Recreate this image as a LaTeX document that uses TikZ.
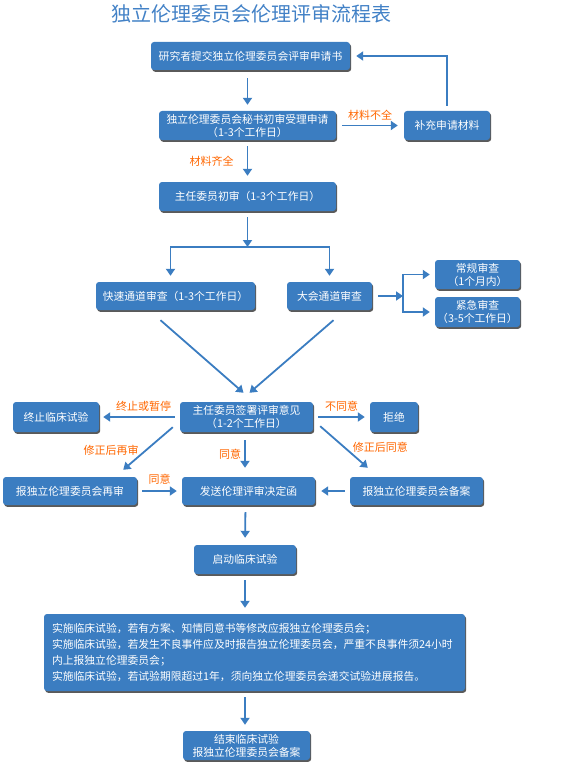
\documentclass[tikz,border=0pt]{standalone}
\usepackage{fontspec}
\setmainfont{Noto Sans CJK SC}
\usepackage{xcolor}
\usepackage{tikz}
\usetikzlibrary{arrows.meta,positioning,calc,shadows}
\definecolor{FlowBlue}{HTML}{3B7DC1}
\definecolor{TitleBlue}{HTML}{4281C6}
\definecolor{NoteOrange}{HTML}{FF6600}
\definecolor{ShadowGrey}{HTML}{5A5A5A}

\begin{document}
\begin{tikzpicture}[x=1pt,y=-1pt,
  box/.style={fill=FlowBlue,text=white,rounded corners=3pt,inner sep=1pt,align=center,
    font=\fontsize{10.8}{13}\selectfont,
    drop shadow={shadow xshift=1.2pt,shadow yshift=-1.8pt,fill=ShadowGrey,opacity=1}},
  lbl/.style={text=NoteOrange,font=\fontsize{11}{13}\selectfont,inner sep=0pt},
  arr/.style={-{Triangle[length=7pt,width=9pt]},line width=1.8pt,draw=FlowBlue,
    shorten <=6pt,shorten >=6pt}]
\useasboundingbox (0,0) rectangle (579,765);
\node[text=TitleBlue,font=\fontsize{20}{22}\selectfont] (title) at (251,14) {独立伦理委员会伦理评审流程表};
\node[box,minimum width=199pt,minimum height=28pt] (n1) at (250.5,56) {研究者提交独立伦理委员会评审申请书};
\node[box,minimum width=177pt,minimum height=29pt] (n2) at (247.5,125.5) {独立伦理委员会秘书初审受理申请\\（1-3个工作日）};
\node[box,minimum width=86pt,minimum height=29pt] (n3) at (447,125.5) {补充申请材料};
\node[box,minimum width=177pt,minimum height=29pt] (n4) at (247.5,196.5) {主任委员初审（1-3个工作日）};
\node[box,minimum width=159pt,minimum height=28pt] (n5) at (175.5,296) {快速通道审查（1-3个工作日）};
\node[box,minimum width=85pt,minimum height=28pt] (n6) at (329.5,296) {大会通道审查};
\node[box,minimum width=85pt,minimum height=29pt] (n7) at (477.5,274.5) {常规审查\\（1个月内）};
\node[box,minimum width=85pt,minimum height=30pt] (n8) at (477.5,312) {紧急审查\\（3-5个工作日）};
\node[box,minimum width=133pt,minimum height=30pt] (n9) at (246.5,417) {主任委员签署评审意见\\（1-2个工作日）};
\node[box,minimum width=86pt,minimum height=30pt] (n10) at (56,417) {终止临床试验};
\node[box,minimum width=48pt,minimum height=30pt] (n11) at (394,417) {拒绝};
\node[box,minimum width=134pt,minimum height=28pt] (n12) at (70,491) {报独立伦理委员会再审};
\node[box,minimum width=133pt,minimum height=28pt] (n13) at (248.5,491) {发送伦理评审决定函};
\node[box,minimum width=133pt,minimum height=28pt] (n14) at (416.5,491) {报独立伦理委员会备案};
\node[box,minimum width=102pt,minimum height=29pt] (n15) at (245,559.5) {启动临床试验};
\node[box,minimum width=421pt,minimum height=77pt,text width=405pt,align=left,
  font=\fontsize{10.8}{16.3}\selectfont] (n16) at (254.5,652.5)
  {实施临床试验，若有方案、知情同意书等修改应报独立伦理委员会；\\
   实施临床试验，若发生不良事件应及时报告独立伦理委员会，严重不良事件须24小时\\
   内上报独立伦理委员会；\\
   实施临床试验，若试验期限超过1年，须向独立伦理委员会递交试验进展报告。};
\node[box,minimum width=127pt,minimum height=29pt] (n17) at (246.5,745.5) {结束临床试验\\报独立伦理委员会备案};
% split points
\coordinate (sp1) at (247.5,247);
\coordinate (sp2) at (403,296);
% top part
\draw[arr,shorten <=8pt] (n2.north |- n1.south) -- (n2.north);
\draw[arr] (n2) -- (n3) node[lbl,midway,above=4pt] {材料不全};
\draw[arr,shorten <=5pt] (n3.north) |- (n1.east);
\draw[arr] (n2) -- (n4) node[lbl,midway,left=13pt] {材料齐全};
\draw[arr,shorten >=0pt] (n4) -- (sp1);
\draw[arr,shorten <=0pt] (sp1) -| ([xshift=-5pt]n5.north);
\draw[arr,shorten <=0pt] (sp1) -| (n6.north);
\draw[arr,shorten >=0pt] (n6) -- (sp2);
\draw[arr,shorten <=0pt,shorten >=5pt] (sp2) |- (n7.west);
\draw[arr,shorten <=0pt,shorten >=5pt] (sp2) |- (n8.west);
\draw[arr,shorten <=0pt,shorten >=0pt] ([xshift=-15pt,yshift=-10pt]n5.south) -- ([xshift=-3pt,yshift=9pt]n9.north);
\draw[arr,shorten <=0pt,shorten >=0pt] ([xshift=4pt,yshift=-10pt]n6.south) -- ([xshift=3pt,yshift=9pt]n9.north);
% decisions
\draw[arr,shorten <=5pt,shorten >=4pt] (n9) -- (n10) node[lbl,pos=.45,above=5pt] {终止或暂停};
\draw[arr,shorten <=5pt,shorten >=5pt] (n9) -- (n11) node[lbl,midway,above=5pt] {不同意};
\draw[arr,shorten <=0pt,shorten >=0pt] ([xshift=-7pt,yshift=5pt]n9.south west) -- ([xshift=-14pt,yshift=7pt]n12.north east)
  node[lbl,pos=.55,left=6pt] {修正后再审};
\draw[arr,shorten <=8pt,shorten >=9pt] ([xshift=-1.5pt]n9.south) -- ([xshift=-1.5pt]n9.south |- n13.north)
  node[lbl,midway,left=3pt] {同意};
\draw[arr,shorten <=0pt,shorten >=0pt] ([xshift=7pt,yshift=6pt]n9.south east) -- ([xshift=18pt,yshift=9pt]n14.north west)
  node[lbl,pos=.5,right=8pt] {修正后同意};
\draw[arr,shorten <=5pt,shorten >=5pt] (n12) -- (n13) node[lbl,midway,above=6pt] {同意};
\draw[arr,shorten <=5pt,shorten >=6pt] (n14) -- (n13);
% bottom part
\draw[arr,shorten <=7pt,shorten >=7pt] ([xshift=-3pt]n13.south) -- (n15.north);
\draw[arr] (n15) -- (n15.south |- n16.north);
\draw[arr] (n15.south |- n16.south) -- (n17.north -| n15.south);
\end{tikzpicture}
\end{document}
